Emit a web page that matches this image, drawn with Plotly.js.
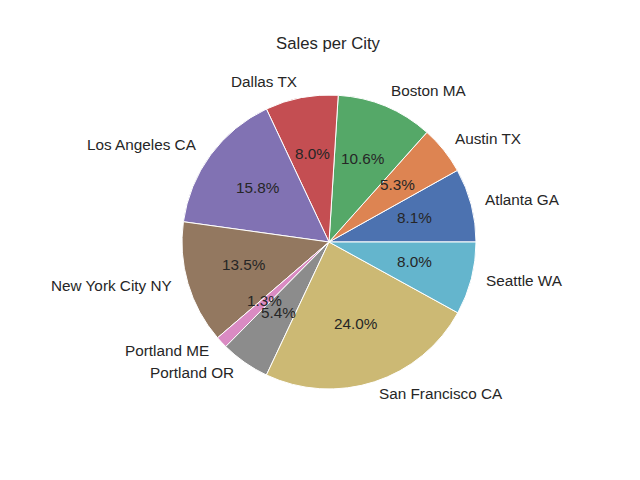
<!DOCTYPE html>
<html>
<head>
<meta charset="utf-8">
<script src="https://cdn.plot.ly/plotly-3.0.1.min.js"></script>
<style>html,body{margin:0;padding:0;background:#fff;}#chart{width:640px;height:480px;}</style>
</head>
<body>
<div id="chart"></div>
<script>
const cities = ["Atlanta GA", "Austin TX", "Boston MA", "Dallas TX", "Los Angeles CA",
                "New York City NY", "Portland ME", "Portland OR", "San Francisco CA", "Seattle WA"];
const sales = [8.1, 5.3, 10.6, 8.0, 15.8, 13.5, 1.3, 5.4, 24.0, 8.0];
const colors = ["#4C72B0", "#DD8452", "#55A868", "#C44E52", "#8172B3",
                "#937860", "#DA8BC3", "#8C8C8C", "#CCB974", "#64B5CD"];

const W = 640, H = 480;
const cx = 329, cy = 238, R = 147; // pixel center (from bottom) and radius
const font = "Liberation Sans, Arial, sans-serif";
const txtColor = "#262626";

const total = sales.reduce((a, b) => a + b, 0);
const annotations = [];
let start = 0;
sales.forEach((v, i) => {
  const frac = v / total;
  const mid = (start + frac / 2) * 2 * Math.PI;
  start += frac;
  const c = Math.cos(mid), s = Math.sin(mid);
  annotations.push({
    xref: "paper", yref: "paper",
    x: (cx + 1.1 * R * c) / W, y: (cy + 1.1 * R * s) / H,
    xshift: c > 0 ? -2 : 0, yshift: 2,
    text: cities[i], showarrow: false,
    xanchor: c > 0 ? "left" : "right", yanchor: "middle",
    font: {family: font, size: 15.3, color: txtColor}
  });
  annotations.push({
    xref: "paper", yref: "paper",
    x: (cx + 0.6 * R * c) / W, y: (cy + 0.6 * R * s) / H,
    yshift: 2,
    text: (100 * frac).toFixed(1) + "%", showarrow: false,
    xanchor: "center", yanchor: "middle",
    font: {family: font, size: 15.3, color: txtColor}
  });
});

const trace = {
  type: "pie",
  labels: cities,
  values: sales,
  sort: false,
  direction: "counterclockwise",
  rotation: 90 - 360 * sales[0] / total,
  textinfo: "none",
  hoverinfo: "label+percent",
  marker: {colors: colors, line: {color: "#ffffff", width: 1}},
  domain: {x: [(cx - R) / W, (cx + R) / W], y: [(cy - R) / H, (cy + R) / H]},
  showlegend: false
};

const layout = {
  width: W, height: H,
  margin: {l: 0, r: 0, t: 0, b: 0},
  paper_bgcolor: "#ffffff",
  showlegend: false,
  title: {
    text: "Sales per City",
    xref: "paper", yref: "paper",
    x: 328 / W, xanchor: "center",
    y: 1 - 43 / H, yanchor: "middle",
    font: {family: font, size: 16.7, color: txtColor}
  },
  annotations: annotations
};

Plotly.newPlot("chart", [trace], layout, {displayModeBar: false, staticPlot: true});
</script>
</body>
</html>
